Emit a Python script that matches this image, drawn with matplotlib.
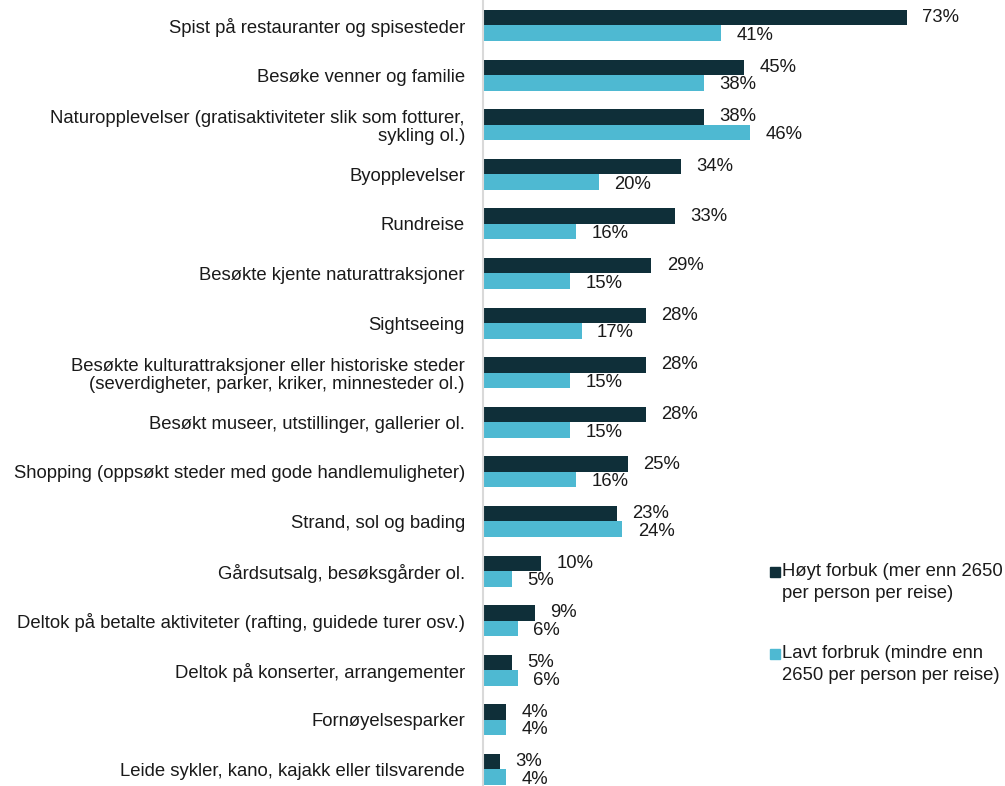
import matplotlib
matplotlib.use('Agg')
import matplotlib.pyplot as plt
import numpy as np
from matplotlib.patches import Rectangle

plt.rcParams['font.family'] = ['Liberation Sans', 'DejaVu Sans']

categories = ['Spist på restauranter og spisesteder',
              'Besøke venner og familie',
              'Naturopplevelser (gratisaktiviteter slik som fotturer,\nsykling ol.)',
              'Byopplevelser',
              'Rundreise',
              'Besøkte kjente naturattraksjoner',
              'Sightseeing',
              'Besøkte kulturattraksjoner eller historiske steder\n(severdigheter, parker, kriker, minnesteder ol.)',
              'Besøkt museer, utstillinger, gallerier ol.',
              'Shopping (oppsøkt steder med gode handlemuligheter)',
              'Strand, sol og bading',
              'Gårdsutsalg, besøksgårder ol.',
              'Deltok på betalte aktiviteter (rafting, guidede turer osv.)',
              'Deltok på konserter, arrangementer',
              'Fornøyelsesparker',
              'Leide sykler, kano, kajakk eller tilsvarende']
hoyt = [73, 45, 38, 34, 33, 29, 28, 28, 28, 25, 23, 10, 9, 5, 4, 3]
lavt = [41, 38, 46, 20, 16, 15, 17, 15, 15, 16, 24, 5, 6, 6, 4, 4]
series_names = ['Høyt forbuk (mer enn 2650\nper person per reise)',
                'Lavt forbruk (mindre enn\n2650 per person per reise)']

dark = '#0f2f39'
light = '#4eb9d2'
txt = '#1a1a1a'
fs = 13.3

W, H = 1005, 786
fig = plt.figure(figsize=(W/100, H/100), dpi=100)
# 5.81 px per percent, axis at x=483
xmax = 80
ax = fig.add_axes([483/W, 0, xmax*5.81/W, 1])

y = np.arange(len(categories))
h = 0.3125
ax.barh(y - h/2, hoyt, height=h, color=dark)
ax.barh(y + h/2, lavt, height=h, color=light)

for yi, v in zip(y, hoyt):
    ax.annotate(f'{v}%', (v, yi - h/2), xytext=(11, 0), textcoords='offset points',
                va='center', ha='left', fontsize=fs, color=txt)
for yi, v in zip(y, lavt):
    ax.annotate(f'{v}%', (v, yi + h/2), xytext=(11, -1.5), textcoords='offset points',
                va='center', ha='left', fontsize=fs, color=txt)

ax.set_xlim(0, xmax)
ax.set_ylim(len(categories) - 1 + 0.333, -0.514)
ax.set_yticks(y)
ax.set_yticklabels(categories, fontsize=fs, color=txt, linespacing=1.1)
ax.tick_params(axis='y', length=0, pad=13)
ax.set_xticks([])
for s in ['top', 'right', 'bottom']:
    ax.spines[s].set_visible(False)
ax.spines['left'].set_color('#d9d9d9')
ax.spines['left'].set_linewidth(1.5)
ax.patch.set_alpha(0)

# legend
for col, name, ly in [(dark, series_names[0], 572), (light, series_names[1], 654)]:
    fig.patches.append(Rectangle((770/W, 1 - (ly + 5)/H), 10/W, 10/H,
                                 transform=fig.transFigure, color=col))
    fig.text(782/W, 1 - (ly - 9)/H, name, fontsize=fs, va='top', ha='left',
             color=txt, linespacing=1.38)

fig.savefig('out.png', dpi=100)
